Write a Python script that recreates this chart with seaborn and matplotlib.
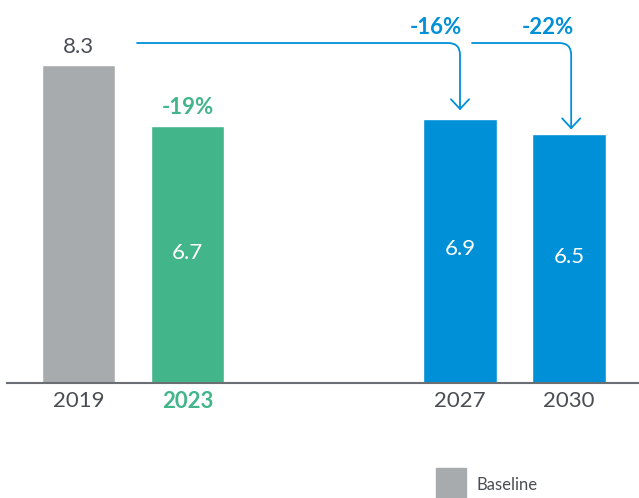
import numpy as np
import pandas as pd
import seaborn as sns
import matplotlib.pyplot as plt
from matplotlib.path import Path
from matplotlib.patches import FancyArrowPatch, Rectangle

# ---- data ----
years = ["2019", "2023", "2027", "2030"]
values = [8.3, 6.7, 6.9, 6.5]
bar_colors = ["#A8ABAE", "#43B58B", "#0090D7", "#0090D7"]
inside_labels = ["", "6.7", "6.9", "6.5"]
top_labels = ["8.3", "-19%", "", ""]
change_labels = ["-16%", "-22%"]
legend_label = "Baseline"

# layout
x_pos = [0, 1, 3.5, 4.5]

sns.set_theme(style="white")
plt.rcParams['font.family'] = ['Lato', 'DejaVu Sans']

fig = plt.figure(figsize=(6.39, 4.98), dpi=100)
ax = fig.add_axes([7/639, 115/498, 632/639, 383/498])

df = pd.DataFrame({"x": x_pos, "value": values, "year": years})
sns.barplot(data=df, x="x", y="value", hue="year", palette=bar_colors,
            native_scale=True, width=0.67, dodge=False, saturation=1,
            legend=False, ax=ax)

ax.set_xlim((7 - 78.5) / 109, (639 - 78.5) / 109)
ax.set_ylim(0, 10)
for s in ["top", "right", "left"]:
    ax.spines[s].set_visible(False)
ax.spines["bottom"].set_color("#6b6e72")
ax.spines["bottom"].set_linewidth(1.5)
ax.set_yticks([])
ax.set_xticks(x_pos)
ax.set_xticklabels(years, fontsize=16, color="#4a4e54")
ax.tick_params(axis="x", length=0, pad=6)
ax.set_xlabel("")
ax.set_ylabel("")
tl = ax.get_xticklabels()
tl[1].set_color("#43B58B")
tl[1].set_fontweight("bold")

# labels
ax.text(x_pos[0], values[0] + 0.22, top_labels[0], ha="center", va="bottom",
        fontsize=16, color="#4a4e54")
ax.text(x_pos[1], values[1] + 0.22, top_labels[1], ha="center", va="bottom",
        fontsize=16, color="#43B58B", fontweight="bold")
for i in range(1, 4):
    ax.text(x_pos[i], values[i] / 2 + 0.05, inside_labels[i], ha="center",
            va="center", fontsize=16, color="white")

# arrows
rx, ry = 12 / 109, 12 / 38.3
y_line = (383 - 43) / 38.3


def bent_arrow(x0, x1, y_tip, color):
    verts = [(x0, y_line), (x1 - rx, y_line), (x1, y_line), (x1, y_line - ry), (x1, y_tip)]
    codes = [Path.MOVETO, Path.LINETO, Path.CURVE3, Path.CURVE3, Path.LINETO]
    p = FancyArrowPatch(path=Path(verts, codes),
                        arrowstyle="->,head_length=0.7,head_width=0.65",
                        mutation_scale=10, color=color, lw=1.3)
    ax.add_patch(p)


bent_arrow((137 - 78.5) / 109, x_pos[2], values[2] + 0.22, "#0090D7")
bent_arrow((472 - 78.5) / 109, x_pos[3] + 0.02, values[3] + 0.12, "#0090D7")

ax.text((436 - 78.5) / 109, (383 - 28) / 38.3, change_labels[0], ha="center",
        va="center", fontsize=16, color="#0090D7", fontweight="bold")
ax.text((548 - 78.5) / 109, (383 - 28) / 38.3, change_labels[1], ha="center",
        va="center", fontsize=16, color="#0090D7", fontweight="bold")

# legend (partially visible)
fig.add_artist(Rectangle((436 / 639, -0.01), 30 / 639, 30 / 498 + 0.01,
                         transform=fig.transFigure, color=bar_colors[0]))
fig.text(476 / 639, 13 / 498, legend_label, ha="left", va="center",
         fontsize=12, color="#4a4e54")

fig.savefig("out.png", dpi=100)
